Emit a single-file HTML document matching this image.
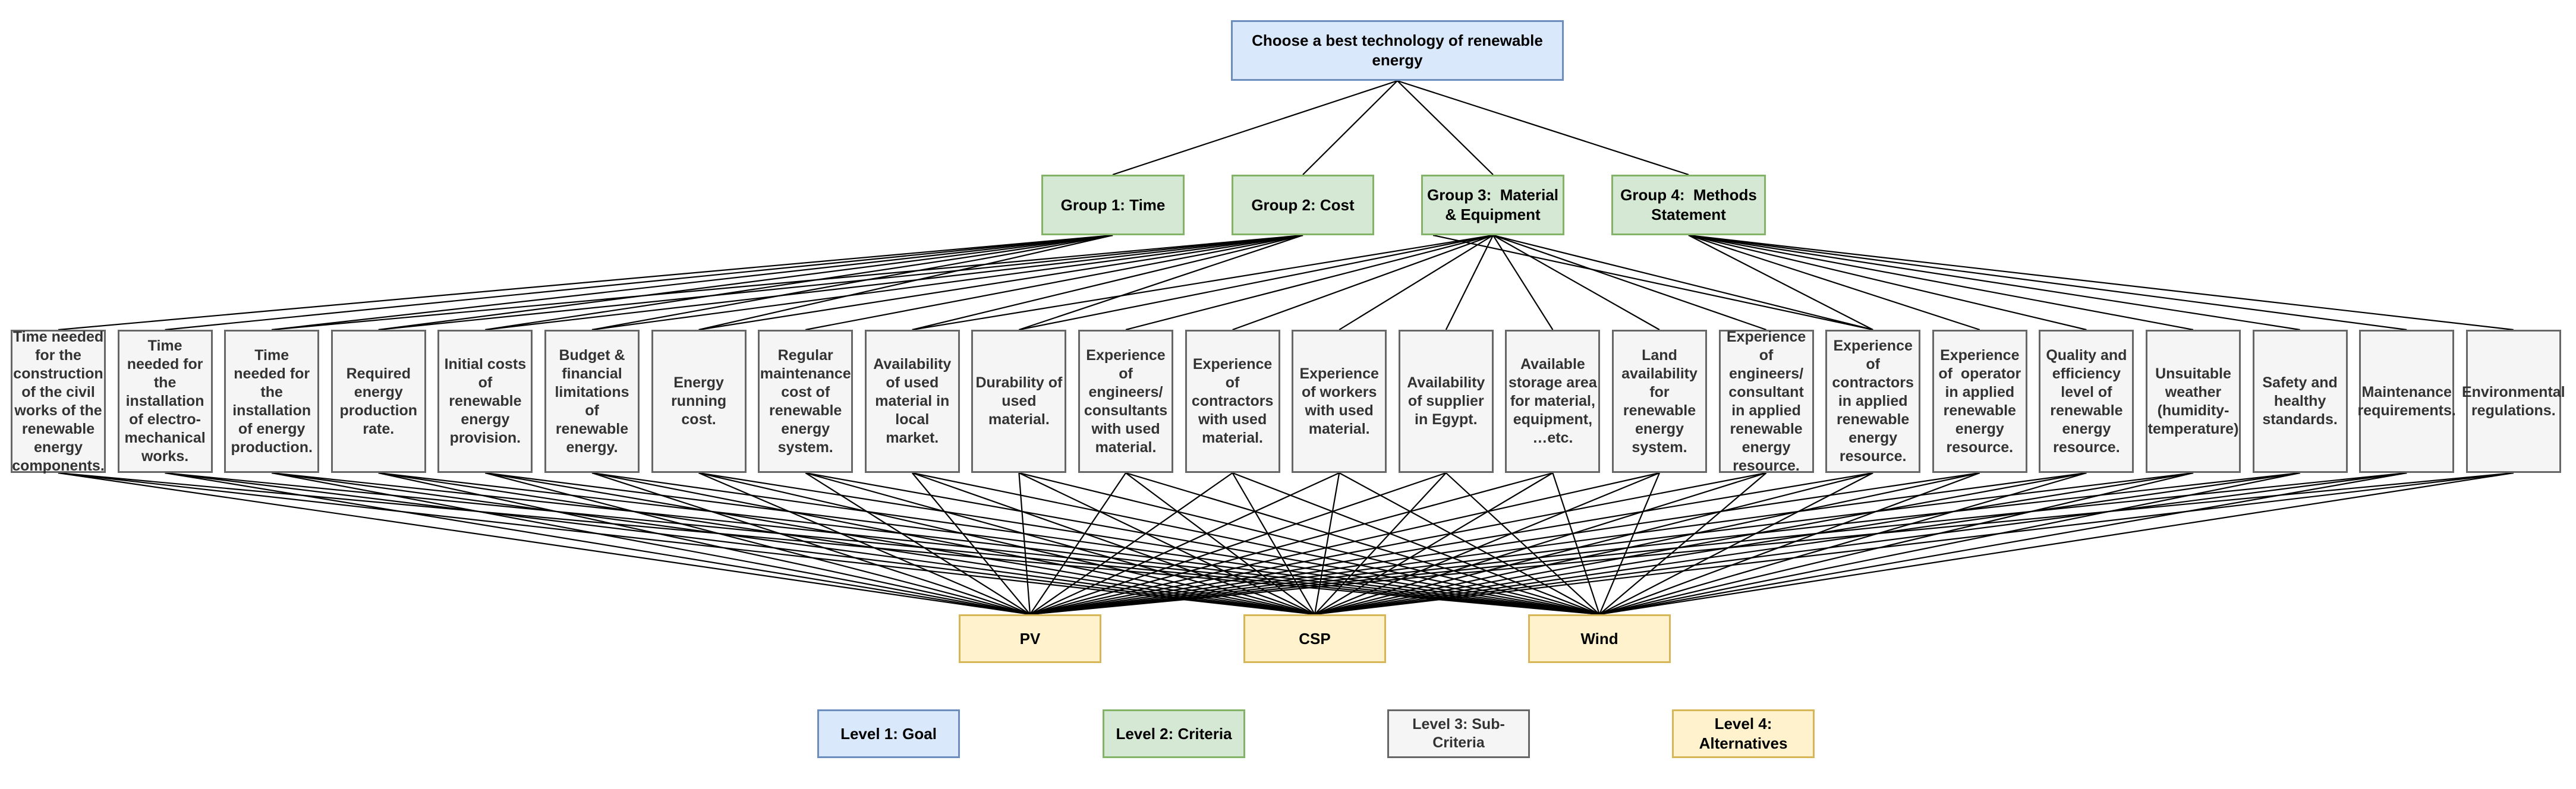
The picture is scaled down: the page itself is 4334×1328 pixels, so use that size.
<!DOCTYPE html>
<html><head><meta charset="utf-8"><style>
html,body{margin:0;padding:0;background:#fff;}
body{width:4334px;height:1328px;position:relative;overflow:hidden;font-family:"Liberation Sans",Arial,sans-serif;font-weight:bold;color:#000;}
.b{position:absolute;box-sizing:border-box;display:flex;align-items:center;justify-content:center;text-align:center;white-space:nowrap;}
.g{background:#dae8fc;border:3px solid #6c8ebf;font-size:26px;line-height:33px;}
.c{background:#d5e8d4;border:3px solid #82b366;font-size:26px;line-height:33px;}
.s{background:#f5f5f5;border:3px solid #666;font-size:25px;line-height:31px;color:#333;overflow:visible;}
.a{background:#fff2cc;border:3px solid #d6b656;font-size:26px;line-height:33px;}
svg{position:absolute;left:0;top:0;}
</style></head><body>
<svg id="sv" width="4334" height="1328" stroke="#000" stroke-width="2.2" fill="none"></svg>
<div class="b g" style="left:2071px;top:34px;width:560px;height:102px;">Choose a best technology of renewable<br>energy</div>
<div class="b c" style="left:1752px;top:294px;width:241px;height:102px;">Group 1: Time</div>
<div class="b c" style="left:2072px;top:294px;width:240px;height:102px;">Group 2: Cost</div>
<div class="b c" style="left:2391px;top:294px;width:241px;height:102px;">Group 3:&nbsp; Material<br>&amp; Equipment</div>
<div class="b c" style="left:2711px;top:294px;width:260px;height:102px;">Group 4:&nbsp; Methods<br>Statement</div>
<div id="subs"></div>
<div class="b a" style="left:1613px;top:1034px;width:240px;height:82px;">PV</div>
<div class="b a" style="left:2092px;top:1034px;width:240px;height:82px;">CSP</div>
<div class="b a" style="left:2571px;top:1034px;width:240px;height:82px;">Wind</div>
<div class="b g" style="left:1375px;top:1194px;width:240px;height:82px;">Level 1: Goal</div>
<div class="b c" style="left:1855px;top:1194px;width:240px;height:82px;">Level 2: Criteria</div>
<div class="b s" style="left:2334px;top:1194px;width:240px;height:82px;">Level 3: Sub-<br>Criteria</div>
<div class="b a" style="left:2813px;top:1194px;width:240px;height:82px;">Level 4:<br>Alternatives</div>
<script>
var T=[
"Time needed<br>for the<br>construction<br>of the civil<br>works of the<br>renewable<br>energy<br>components.",
"Time<br>needed for<br>the<br>installation<br>of electro-<br>mechanical<br>works.",
"Time<br>needed for<br>the<br>installation<br>of energy<br>production.",
"Required<br>energy<br>production<br>rate.",
"Initial costs<br>of<br>renewable<br>energy<br>provision.",
"Budget &amp;<br>financial<br>limitations<br>of<br>renewable<br>energy.",
"Energy<br>running<br>cost.",
"Regular<br>maintenance<br>cost of<br>renewable<br>energy<br>system.",
"Availability<br>of used<br>material in<br>local<br>market.",
"Durability of<br>used<br>material.",
"Experience<br>of<br>engineers/<br>consultants<br>with used<br>material.",
"Experience<br>of<br>contractors<br>with used<br>material.",
"Experience<br>of workers<br>with used<br>material.",
"Availability<br>of supplier<br>in Egypt.",
"Available<br>storage area<br>for material,<br>equipment,<br>…etc.",
"Land<br>availability<br>for<br>renewable<br>energy<br>system.",
"Experience<br>of<br>engineers/<br>consultant<br>in applied<br>renewable<br>energy<br>resource.",
"Experience<br>of<br>contractors<br>in applied<br>renewable<br>energy<br>resource.",
"Experience<br>of&nbsp; operator<br>in applied<br>renewable<br>energy<br>resource.",
"Quality and<br>efficiency<br>level of<br>renewable<br>energy<br>resource.",
"Unsuitable<br>weather<br>(humidity-<br>temperature)",
"Safety and<br>healthy<br>standards.",
"Maintenance<br>requirements.",
"Environmental<br>regulations."];
var h="",L="";
function ln(a,b,c,d){L+='<line x1="'+a+'" y1="'+b+'" x2="'+c+'" y2="'+d+'"/>';}
var cx=[];
for(var i=0;i<24;i++){var x=18+i*179.6;cx.push(x+80);
h+='<div class="b s" style="left:'+x+'px;top:555px;width:160px;height:241px;">'+T[i]+'</div>';}
document.getElementById('subs').innerHTML=h;
var gx=[1872,2192,2512,2841];
gx.forEach(function(g){ln(2351,136,g,294);});
for(i=0;i<=6;i++)ln(gx[0],396,cx[i],555);
for(i=2;i<=9;i++)ln(gx[1],396,cx[i],555);
for(i=8;i<=17;i++)ln(gx[2],396,cx[i],555);
ln(2411,396,cx[17],555);
for(i=17;i<=23;i++)ln(gx[3],396,cx[i],555);
var ax=[1733,2212,2691];
for(i=0;i<24;i++)ax.forEach(function(a){ln(cx[i],796,a,1034);});
document.getElementById('sv').innerHTML=L;
</script>
</body></html>
